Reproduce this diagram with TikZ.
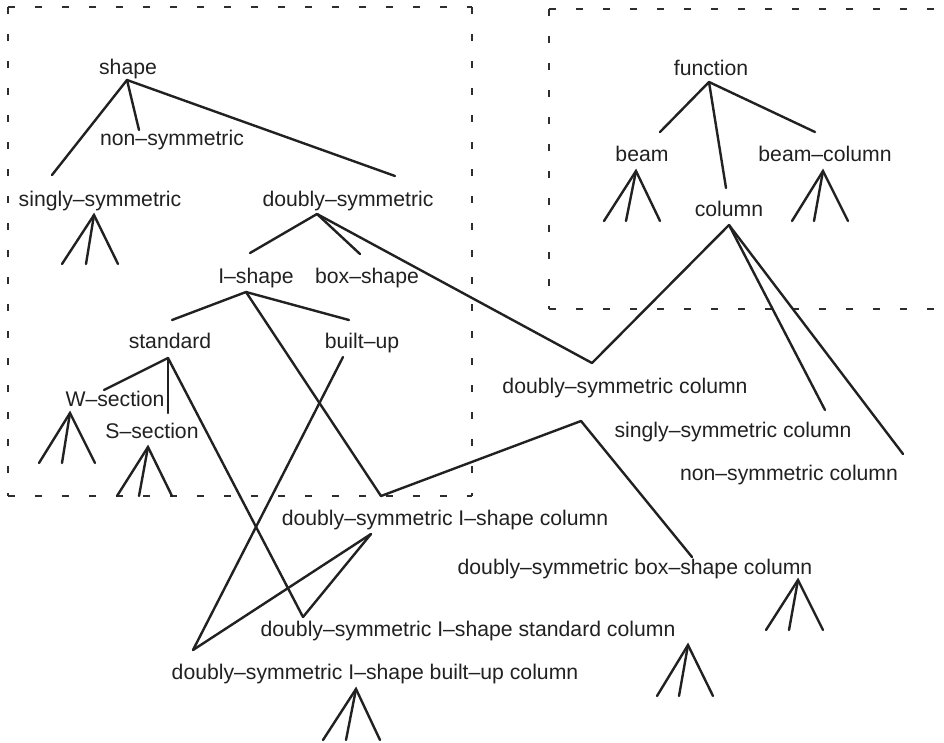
\documentclass[tikz,border=0pt]{standalone}
\usepackage{fontspec}
\setmainfont{Liberation Sans}
\begin{document}
\begin{tikzpicture}[x=1pt,y=-1pt,
  lbl/.style={anchor=base,inner sep=0pt,font=\fontsize{21.2}{25}\selectfont,text=black!87},
  edge/.style={line width=2.4pt,draw=black!87,line cap=round,line join=miter},
  frame/.style={line width=2.8pt,draw=black!82,dash pattern=on 6.5pt off 20.5pt}]
\useasboundingbox (0,0) rectangle (944,742);
\fill[white] (0,0) rectangle (944,742);

% grouping frames
\draw[frame] (8,7) -- (472,7);
\draw[frame] (8,7) -- (8,496);
\draw[frame] (8,496) -- (472,496);
\draw[frame] (472,7) -- (472,496);
\draw[frame] (549,9) -- (944,9);
\draw[frame] (549,9) -- (549,309);
\draw[frame] (549,309) -- (944,309);

% labels
\node[lbl] (shape)    at (128,74)  {shape};
\node[lbl] (nonsym)   at (172,145) {non–symmetric};
\node[lbl] (singly)   at (100,206) {singly–symmetric};
\node[lbl] (doubly)   at (348,206) {doubly–symmetric};
\node[lbl] (ishape)   at (256,283) {I–shape};
\node[lbl] (boxshape) at (367,283) {box–shape};
\node[lbl] (standard) at (170,348) {standard};
\node[lbl] (builtup)  at (362,348) {built–up};
\node[lbl] (wsec)     at (115,406) {W–section};
\node[lbl] (ssec)     at (152,438) {S–section};
\node[lbl] (function) at (711,75)  {function};
\node[lbl] (beam)     at (642,161) {beam};
\node[lbl] (beamcol)  at (825,161) {beam–column};
\node[lbl] (column)   at (729,216) {column};
\node[lbl] (dscol)    at (625,393) {doubly–symmetric column};
\node[lbl] (sscol)    at (733,437) {singly–symmetric column};
\node[lbl] (nscol)    at (789,480) {non–symmetric column};
\node[lbl] (dsicol)   at (445,525) {doubly–symmetric I–shape column};
\node[lbl] (dsboxcol) at (635,574) {doubly–symmetric box–shape column};
\node[lbl] (dsistd)   at (468,636) {doubly–symmetric I–shape standard column};
\node[lbl] (dsibu)    at (375,679) {doubly–symmetric I–shape built–up column};

% attachment points above (t) and below (b) the labels
\coordinate (shape-b)    at (127,80);
\coordinate (nonsym-t)   at (139,130);
\coordinate (singly-t)   at (52,175);
\coordinate (singly-b)   at (94,215);
\coordinate (doubly-t)   at (395,176);
\coordinate (doubly-b)   at (317,214);
\coordinate (ishape-t)   at (250,253);
\coordinate (ishape-b)   at (246,292);
\coordinate (boxshape-t) at (360,254);
\coordinate (standard-t) at (172,320);
\coordinate (standard-b) at (168,358);
\coordinate (builtup-t)  at (349,320);
\coordinate (builtup-b)  at (343,357);
\coordinate (wsec-t)     at (104,390);
\coordinate (wsec-b)     at (70,413);
\coordinate (ssec-t)     at (168,413);
\coordinate (ssec-b)     at (148,447);
\coordinate (function-b) at (709,82);
\coordinate (beam-t)     at (660,132);
\coordinate (beam-b)     at (636,171);
\coordinate (beamcol-t)  at (815,132);
\coordinate (beamcol-b)  at (823,171);
\coordinate (column-t)   at (726,188);
\coordinate (column-b)   at (729,225);
\coordinate (dscol-t)    at (592,363);
\coordinate (dscol-b)    at (581,421);
\coordinate (sscol-t)    at (825,410);
\coordinate (nscol-t)    at (903,454);
\coordinate (dsicol-t)   at (381,496);
\coordinate (dsicol-b)   at (371,534);
\coordinate (dsboxcol-t) at (692,557);
\coordinate (dsboxcol-b) at (798,580);
\coordinate (dsistd-t)   at (303,617);
\coordinate (dsistd-b)   at (688,645);
\coordinate (dsibu-t)    at (193,650);
\coordinate (dsibu-b)    at (356,689);

% shape hierarchy
\draw[edge] (shape-b) -- (singly-t);
\draw[edge] (shape-b) -- (nonsym-t);
\draw[edge] (shape-b) -- (doubly-t);
\draw[edge] (doubly-b) -- (ishape-t);
\draw[edge] (doubly-b) -- (boxshape-t);
\draw[edge] (ishape-b) -- (standard-t);
\draw[edge] (ishape-b) -- (builtup-t);
\draw[edge] (standard-b) -- (wsec-t);
\draw[edge] (standard-b) -- (ssec-t);

% function hierarchy
\draw[edge] (function-b) -- (beam-t);
\draw[edge] (function-b) -- (column-t);
\draw[edge] (function-b) -- (beamcol-t);
\draw[edge] (column-b) -- (sscol-t);
\draw[edge] (column-b) -- (nscol-t);

% combined classes
\draw[edge] (doubly-b) -- (dscol-t);
\draw[edge] (column-b) -- (dscol-t);
\draw[edge] (ishape-b) -- (dsicol-t);
\draw[edge] (dscol-b) -- (dsicol-t);
\draw[edge] (dscol-b) -- (dsboxcol-t);
\draw[edge] (standard-b) -- (dsistd-t);
\draw[edge] (dsicol-b) -- (dsistd-t);
\draw[edge] (builtup-b) -- (dsibu-t);
\draw[edge] (dsicol-b) -- (dsibu-t);

% further subdivisions
\foreach \p/\a/\b/\c/\y in {singly-b/62/86/118/264, wsec-b/39/62/95/463,
    ssec-b/117/139/172/496, beam-b/604/626/660/221, beamcol-b/792/814/848/221,
    dsboxcol-b/766/789/823/630, dsistd-b/657/679/713/696, dsibu-b/323/346/380/740}{
  \coordinate (\p-l) at (\a,\y);
  \coordinate (\p-m) at (\b,\y);
  \coordinate (\p-r) at (\c,\y);
  \draw[edge] (\p-l) -- (\p) -- (\p-r);
  \draw[edge] (\p) -- (\p-m);
}
\end{tikzpicture}
\end{document}
